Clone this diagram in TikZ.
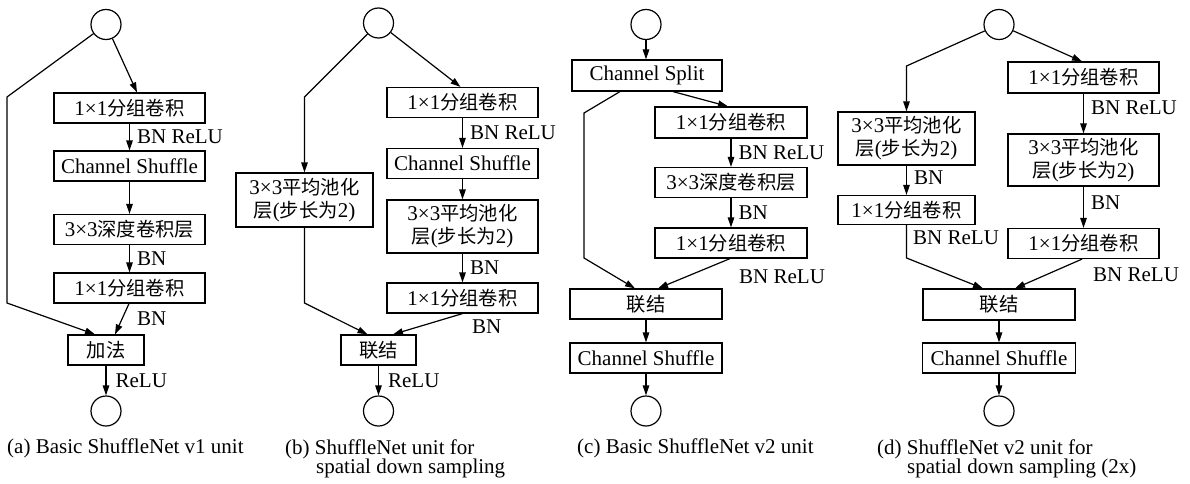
\documentclass[tikz,border=0pt]{standalone}
\usepackage{fontspec}
\setmainfont{Liberation Serif}
\newfontfamily\cjk{Noto Sans CJK SC}[Scale=0.92]
\usetikzlibrary{arrows.meta}
\newcommand\zh[1]{{\cjk #1}}

\begin{document}
\begin{tikzpicture}[x=1pt,y=-1pt,
  every node/.style={font=\fontsize{21}{23}\selectfont},
  box/.style={draw, line width=1.2pt, inner sep=0pt, align=center, minimum height=30pt},
  wide/.style={box, minimum width=151pt},
  narrow/.style={box, minimum width=137pt},
  circ/.style={draw, circle, line width=1.2pt, minimum size=30pt, inner sep=0pt},
  arr/.style={line width=1.2pt, -{Triangle[length=10pt,width=6.5pt]}},
  lab/.style={anchor=west, inner sep=0pt, xshift=7pt},
  tag/.style={anchor=west, inner sep=0pt},
  captext/.style={anchor=base west, inner sep=0pt}
]
\useasboundingbox (0,0) rectangle (1190,484);

% ---------- (a) ShuffleNet v1 basic unit ----------
\node[circ] (a0) at (106,24.5) {};
\node[wide] (a1) at (129.5,108) {1×1\zh{分组卷积}};
\node[wide] (a2) at (129.5,166) {Channel Shuffle};
\node[wide] (a3) at (129.5,229.5) {3×3\zh{深度卷积层}};
\node[wide] (a4) at (129.5,288) {1×1\zh{分组卷积}};
\node[box, minimum width=76pt] (aadd) at (106,350) {\zh{加法}};
\node[circ] (aout) at (106,411) {};
\coordinate (ak) at (7,97);
\coordinate (ak2) at (7,303);
\draw[arr] (a0) -- (ak) -- (ak2) -- ([xshift=-11pt]aadd.north);
\draw[arr] (a0) -- ([xshift=7.5pt]a1.north);
\draw[arr] (a1) -- node[lab] (al1) {BN ReLU} (a2);
\draw[arr] (a2) -- (a3);
\draw[arr] (a3) -- node[lab] (al2) {BN} (a4);
\draw[arr] ([xshift=-0.5pt]a4.south) -- ([xshift=9pt]aadd.north);
\node[tag] (al3) at (137,319) {BN};
\draw[arr] (aadd) -- node[lab, xshift=2pt] (al4) {ReLU} (aout);
\node[captext] (capa) at (7,453) {(a) Basic ShuffleNet v1 unit};

% ---------- (b) ShuffleNet v1 down-sampling unit ----------
\node[circ] (b0) at (378.5,23) {};
\node[narrow, minimum height=54pt] (bL) at (304.5,200) {3×3\zh{平均池化}\\\zh{层}(\zh{步长为}2)};
\node[wide] (bR1) at (462.5,102.5) {1×1\zh{分组卷积}};
\node[wide] (bR2) at (462.5,163.5) {Channel Shuffle};
\node[wide, minimum height=53pt] (bR3) at (462.5,226.5) {3×3\zh{平均池化}\\\zh{层}(\zh{步长为}2)};
\node[wide] (bR4) at (462.5,298) {1×1\zh{分组卷积}};
\node[box, minimum width=75pt] (bcat) at (378.5,350) {\zh{联结}};
\node[circ] (bout) at (378.5,411) {};
\coordinate (bk) at (304.5,97);
\coordinate (bk2) at (304.5,303);
\draw[arr] (b0) -- (bk) -- (bL);
\draw[arr] (bL) -- (bk2) -- ([xshift=-11pt]bcat.north);
\draw[arr] (b0) -- ([xshift=-2pt]bR1.north);
\draw[arr] (bR1) -- node[lab] (bl1) {BN ReLU} (bR2);
\draw[arr] (bR2) -- (bR3);
\draw[arr] (bR3) -- node[lab] (bl2) {BN} (bR4);
\draw[arr] (bR4.south) -- ([xshift=14.5pt]bcat.north);
\node[tag] (bl3) at (472,327) {BN};
\draw[arr] (bcat) -- node[lab, xshift=2pt] (bl4) {ReLU} (bout);
\node[captext] (capb1) at (285,454) {(b) ShuffleNet unit for};
\node[captext] (capb2) at (316,473.5) {spatial down sampling};

% ---------- (c) ShuffleNet v2 basic unit ----------
\node[circ] (c0) at (646,24.5) {};
\node[box, minimum width=150pt, minimum height=31pt] (csp) at (647,75.5) {Channel Split};
\node[box, minimum width=152pt, minimum height=31pt] (c1) at (731,122.5) {1×1\zh{分组卷积}};
\node[box, minimum width=152pt] (c2) at (731,182.5) {3×3\zh{深度卷积层}};
\node[box, minimum width=152pt] (c3) at (731,243) {1×1\zh{分组卷积}};
\node[box, minimum width=152pt] (ccat) at (646,304) {\zh{联结}};
\node[box, minimum width=152pt] (cshuf) at (646,358) {Channel Shuffle};
\node[circ] (cout) at (646,411) {};
\coordinate (ck) at (584,113);
\coordinate (ck2) at (584,258);
\draw[arr] (c0) -- (c0 |- csp.north);
\draw[arr] ([xshift=-27pt]csp.south) -- (ck) -- (ck2) -- ([xshift=-11pt]ccat.north);
\draw[arr] ([xshift=26pt]csp.south) -- ([xshift=-3pt]c1.north);
\draw[arr] (c1) -- node[lab] (cl1) {BN ReLU} (c2);
\draw[arr] (c2) -- node[lab] (cl2) {BN} (c3);
\draw[arr] ([xshift=-1pt]c3.south) -- ([xshift=12pt]ccat.north);
\node[tag] (cl3) at (739,277) {BN ReLU};
\draw[arr] (ccat) -- (cshuf);
\draw[arr] (cshuf) -- (cout);
\node[captext] (capc) at (577,453) {(c) Basic ShuffleNet v2 unit};

% ---------- (d) ShuffleNet v2 down-sampling unit ----------
\node[circ] (d0) at (999,24.5) {};
\node[wide, minimum height=31pt] (dR1) at (1083.5,77.5) {1×1\zh{分组卷积}};
\node[wide, minimum height=52pt] (dR2) at (1083.5,160) {3×3\zh{平均池化}\\\zh{层}(\zh{步长为}2)};
\node[wide] (dR3) at (1083.5,243.5) {1×1\zh{分组卷积}};
\node[narrow, minimum height=53pt] (dL1) at (906.5,138.5) {3×3\zh{平均池化}\\\zh{层}(\zh{步长为}2)};
\node[narrow, minimum height=29pt] (dL2) at (906.5,210) {1×1\zh{分组卷积}};
\node[box, minimum width=152pt, minimum height=31pt] (dcat) at (999,304.5) {\zh{联结}};
\node[box, minimum width=153pt] (dshuf) at (999,358) {Channel Shuffle};
\node[circ] (dout) at (999,411) {};
\coordinate (dk) at (906.5,66);
\coordinate (dk2) at (906.5,258);
\draw[arr] (d0) -- (dk) -- (dL1);
\draw[arr] (d0) -- ([xshift=-1.5pt]dR1.north);
\draw[arr] (dR1) -- node[lab, pos=0.35] (dl1) {BN ReLU} (dR2);
\draw[arr] (dR2) -- node[lab, pos=0.38] (dl2) {BN} (dR3);
\draw[arr] (dL1) -- node[lab, pos=0.42] (dl3) {BN} (dL2);
\draw[arr] (dL2) -- (dk2) -- ([xshift=-16pt]dcat.north);
\node[tag] (dl4) at (913,238) {BN ReLU};
\draw[arr] ([xshift=-1.5pt]dR3.south) -- ([xshift=16pt]dcat.north);
\node[tag] (dl5) at (1093,275) {BN ReLU};
\draw[arr] (dcat) -- (dshuf);
\draw[arr] (dshuf) -- (dout);
\node[captext] (capd1) at (877,454) {(d) ShuffleNet v2 unit for};
\node[captext] (capd2) at (907,473.5) {spatial down sampling (2x)};
\end{tikzpicture}
\end{document}
